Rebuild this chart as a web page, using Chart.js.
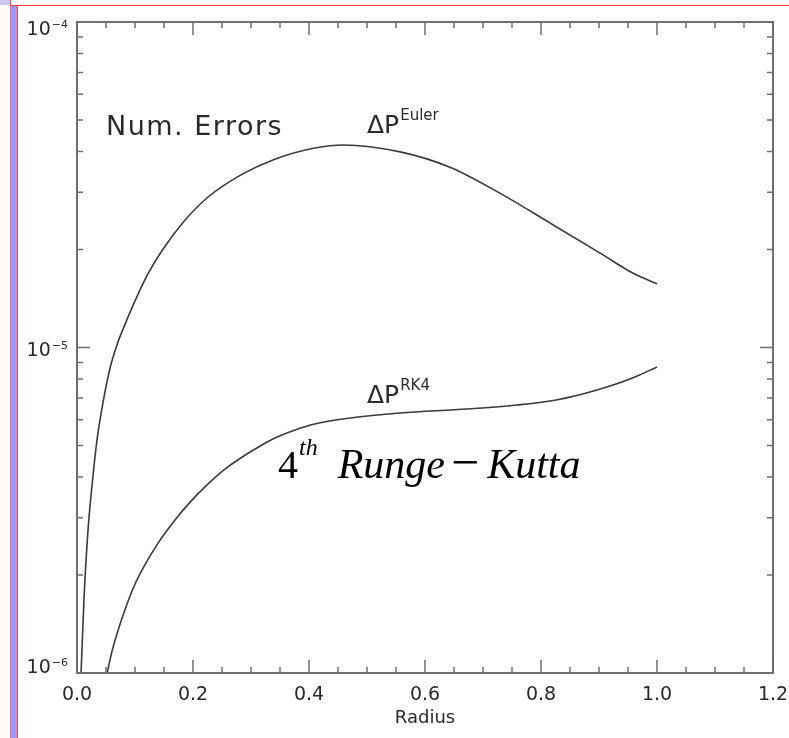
<!DOCTYPE html>
<html>
<head>
<meta charset="utf-8">
<title>Num. Errors</title>
<script src="https://cdn.jsdelivr.net/npm/chart.js@4.4.1/dist/chart.umd.min.js"></script>
<style>
  html, body { margin: 0; padding: 0; background: #fff; }
  #wrap { position: relative; width: 789px; height: 738px; overflow: hidden; }
  #plot { position: absolute; left: 0; top: 0; }
  .deco { position: absolute; }
</style>
</head>
<body>
<div id="wrap">
  <div class="deco" style="left:0;top:0;width:10px;height:5px;background:#c9c9f2"></div>
  <div class="deco" style="left:0;top:5px;width:10px;height:733px;background:#fdfaf7"></div>
  <div class="deco" style="left:10px;top:0;width:1px;height:5px;background:#ff4040"></div>
  <div class="deco" style="left:10px;top:5px;width:779px;height:1px;background:#ff4040"></div>
  <div class="deco" style="left:10px;top:6px;width:6px;height:732px;background:#9999ff;border-left:1px solid #ff7070;border-right:1px solid #ff4040"></div>
  <canvas id="plot" width="789" height="738"></canvas>
</div>
<script>
// values
var eulerRadius = [0.007, 0.012, 0.019, 0.026, 0.0345, 0.045, 0.057, 0.069, 0.083, 0.100, 0.122, 0.147, 0.186, 0.226, 0.285, 0.341, 0.410, 0.459, 0.557, 0.643, 0.729, 0.816, 0.902, 0.959, 1.0];
var eulerErr = [1.0e-6, 1.68e-6, 2.75e-6, 3.78e-6, 5.20e-6, 6.80e-6, 8.65e-6, 1.02e-5, 1.18e-5, 1.39e-5, 1.68e-5, 1.99e-5, 2.46e-5, 2.90e-5, 3.41e-5, 3.79e-5, 4.10e-5, 4.19e-5, 3.99e-5, 3.58e-5, 2.98e-5, 2.41e-5, 1.95e-5, 1.69e-5, 1.57e-5];

var rk4Radius = [0.052, 0.060, 0.071, 0.083, 0.097, 0.112, 0.140, 0.169, 0.195, 0.226, 0.255, 0.285, 0.316, 0.341, 0.376, 0.410, 0.471, 0.557, 0.672, 0.759, 0.816, 0.872, 0.919, 0.962, 1.0];
var rk4Err = [1.0e-6, 1.16e-6, 1.355e-6, 1.57e-6, 1.825e-6, 2.07e-6, 2.51e-6, 2.95e-6, 3.35e-6, 3.81e-6, 4.23e-6, 4.61e-6, 4.98e-6, 5.27e-6, 5.58e-6, 5.82e-6, 6.07e-6, 6.29e-6, 6.47e-6, 6.66e-6, 6.85e-6, 7.20e-6, 7.61e-6, 8.12e-6, 8.71e-6];

var xMajor = [0, 0.2, 0.4, 0.6, 0.8, 1.0, 1.2];
var xMinor = [0.05, 0.1, 0.15, 0.25, 0.3, 0.35, 0.45, 0.5, 0.55, 0.65, 0.7, 0.75, 0.85, 0.9, 0.95, 1.05, 1.1, 1.15];
var yMajor = [1e-6, 1e-5, 1e-4];
var yExp = ['\u22126', '\u22125', '\u22124'];
var yMinor = [2e-6, 3e-6, 4e-6, 5e-6, 6e-6, 7e-6, 8e-6, 9e-6, 2e-5, 3e-5, 4e-5, 5e-5, 6e-5, 7e-5, 8e-5, 9e-5];

// where the text notes sit, in data units
var notes = {
  title: { x: 0.05, y: 4.5e-5 },
  euler: { x: 0.5, y: 4.56e-5 },
  rk4: { x: 0.5, y: 6.75e-6 },
  method: { x: 0.3466, y: 3.97e-6 }
};

var ink = '#3a3a3a';
var textInk = '#2a2a2a';
var frameInk = '#6f6f6f';
var sans = '"DejaVu Sans", sans-serif';
var serif = '"Liberation Serif", "Times New Roman", serif';

function pairs(xs, ys) {
  return xs.map(function(x, i) { return { x: x, y: ys[i] }; });
}

// base text with a raised superscript, returns x where it ends
function supText(ctx, x, y, base, baseFont, sup, supFont, rise) {
  ctx.font = baseFont;
  ctx.fillText(base, x, y);
  x += ctx.measureText(base).width;
  ctx.font = supFont;
  ctx.fillText(sup, x + 1, y - rise);
  return x + 1 + ctx.measureText(sup).width;
}

var idlFrame = {
  id: 'idlFrame',
  afterDatasetsDraw: function(chart) {
    var ctx = chart.ctx, a = chart.chartArea;
    var sx = chart.scales.x, sy = chart.scales.y;
    ctx.save();

    ctx.strokeStyle = frameInk;
    ctx.lineWidth = 2;
    ctx.strokeRect(a.left, a.top, a.right - a.left, a.bottom - a.top);

    ctx.lineWidth = 1.5;
    ctx.beginPath();
    function xTick(v, len) {
      var p = sx.getPixelForValue(v);
      ctx.moveTo(p, a.bottom); ctx.lineTo(p, a.bottom - len);
      ctx.moveTo(p, a.top); ctx.lineTo(p, a.top + len);
    }
    function yTick(v, len) {
      var p = sy.getPixelForValue(v);
      ctx.moveTo(a.left, p); ctx.lineTo(a.left + len, p);
      ctx.moveTo(a.right, p); ctx.lineTo(a.right - len, p);
    }
    xMajor.forEach(function(v) { xTick(v, 13); });
    xMinor.forEach(function(v) { xTick(v, 6); });
    yMajor.forEach(function(v) { yTick(v, 13); });
    yMinor.forEach(function(v) { yTick(v, 6); });
    ctx.stroke();

    // y tick labels 10^-n
    ctx.fillStyle = textInk;
    ctx.textAlign = 'left';
    ctx.textBaseline = 'alphabetic';
    yMajor.forEach(function(v, i) {
      var p = sy.getPixelForValue(v);
      var base = Math.min(Math.max(p + 8, a.top + 13), a.bottom);
      ctx.font = '11px ' + sans;
      var ws = ctx.measureText(yExp[i]).width;
      ctx.font = '19px ' + sans;
      var wb = ctx.measureText('10').width;
      supText(ctx, a.left - 9 - ws - 1 - wb, base, '10', '19px ' + sans, yExp[i], '11px ' + sans, 7);
    });

    // notes
    var px, py;
    px = sx.getPixelForValue(notes.title.x); py = sy.getPixelForValue(notes.title.y);
    ctx.font = '27px ' + sans;
    ctx.letterSpacing = '1.5px';
    ctx.fillText('Num. Errors', px, py);
    ctx.letterSpacing = '0px';

    px = sx.getPixelForValue(notes.euler.x); py = sy.getPixelForValue(notes.euler.y);
    supText(ctx, px, py, '\u0394P', '25px ' + sans, 'Euler', '15px ' + sans, 13);

    px = sx.getPixelForValue(notes.rk4.x); py = sy.getPixelForValue(notes.rk4.y);
    supText(ctx, px, py, '\u0394P', '25px ' + sans, 'RK4', '15px ' + sans, 13);

    ctx.fillStyle = '#000';
    px = sx.getPixelForValue(notes.method.x); py = sy.getPixelForValue(notes.method.y);
    var end = supText(ctx, px, py, '4', '40px ' + serif, 'th', 'italic 24px ' + serif, 23);
    ctx.font = 'italic 42px ' + serif;
    var x1 = end + 20;
    ctx.fillText('Runge', x1, py);
    x1 += ctx.measureText('Runge').width + 6;
    ctx.font = '50px ' + serif;
    ctx.fillText('\u2212', x1, py + 1);
    x1 += ctx.measureText('\u2212').width + 8;
    ctx.font = 'italic 42px ' + serif;
    ctx.fillText('Kutta', x1, py);

    ctx.restore();
  }
};

var ctxP = document.getElementById('plot').getContext('2d');
var errChart = new Chart(ctxP, {
  type: 'line',
  data: {
    datasets: [{
      label: 'Euler',
      data: pairs(eulerRadius, eulerErr),
      borderColor: ink,
      borderWidth: 1.6,
      pointRadius: 0,
      cubicInterpolationMode: 'monotone',
      fill: false
    }, {
      label: 'RK4',
      data: pairs(rk4Radius, rk4Err),
      borderColor: ink,
      borderWidth: 1.6,
      pointRadius: 0,
      cubicInterpolationMode: 'monotone',
      fill: false
    }]
  },
  options: {
    responsive: false,
    animation: false,
    layout: { padding: { top: 22, right: 16, left: 0, bottom: 0 } },
    plugins: { legend: { display: false }, tooltip: { enabled: false } },
    scales: {
      x: {
        type: 'linear',
        min: 0,
        max: 1.2,
        afterFit: function(s) { s.height = 65; s.paddingLeft = 0; s.paddingRight = 0; },
        grid: { display: false, drawTicks: false },
        border: { display: false },
        ticks: {
          stepSize: 0.2,
          padding: 11,
          color: textInk,
          font: { family: sans, size: 19 },
          callback: function(v) { return Number(v).toFixed(1); }
        },
        title: {
          display: true,
          text: 'Radius',
          color: textInk,
          font: { family: sans, size: 18 },
          padding: { top: 0, bottom: 9 }
        }
      },
      y: {
        type: 'logarithmic',
        min: 1e-6,
        max: 1e-4,
        afterFit: function(s) { s.width = 77; s.paddingTop = 0; s.paddingBottom = 0; },
        grid: { display: false, drawTicks: false },
        border: { display: false },
        ticks: { display: false }
      }
    }
  },
  plugins: [idlFrame]
});
</script>
</body>
</html>
